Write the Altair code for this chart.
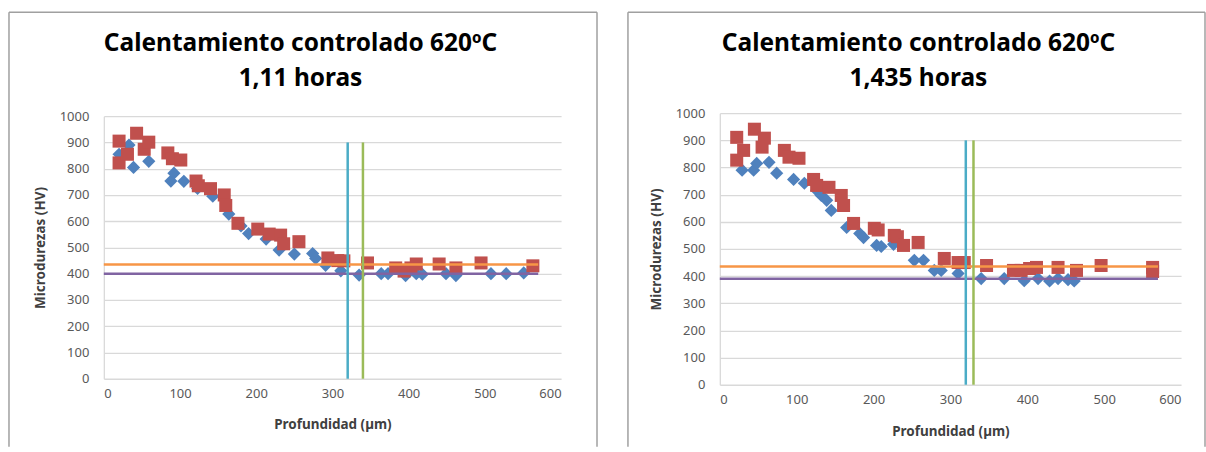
import altair as alt
import pandas as pd

# ---------------- data ----------------
TITLE_LINE1 = "Calentamiento controlado 620ºC"
TITLE_LEFT = "1,11 horas"
TITLE_RIGHT = "1,435 horas"
X_TITLE = "Profundidad (µm)"
Y_TITLE = "Microdurezas (HV)"
X_TICKS = [0, 100, 200, 300, 400, 500, 600]
Y_TICKS = [0, 100, 200, 300, 400, 500, 600, 700, 800, 900, 1000]

# Left panel (1,11 h)
left_blue_x = [20, 33, 39, 59, 88, 92, 105, 123, 143, 164, 180, 190, 213, 230, 250,
               274, 278, 291, 311, 335, 364, 373, 396, 410, 418, 449, 462, 508, 528, 551]
left_blue_y = [855, 890, 805, 828, 753, 783, 752, 725, 695, 627, 582, 553, 532, 490, 475,
               477, 458, 432, 411, 395, 400, 400, 393, 400, 398, 400, 393, 400, 400, 403]
left_red_x = [20, 20, 31, 43, 53, 59, 84, 90, 101, 121, 124, 140, 158, 160, 176, 202,
              217, 232, 236, 256, 294, 307, 315, 346, 383, 394, 403, 410, 440, 462, 495, 563]
left_red_y = [905, 822, 855, 935, 874, 901, 860, 838, 833, 753, 735, 724, 700, 660, 592, 570,
              551, 547, 514, 522, 460, 450, 449, 441, 422, 410, 422, 437, 437, 422, 441, 430]
left_hline_y = [435, 400]          # orange, purple
left_vline_x = [320, 340]          # cyan, green

# Right panel (1,435 h)
right_blue_x = [29, 44, 48, 64, 74, 96, 110, 126, 132, 139, 145, 165, 182, 187, 204,
                210, 226, 253, 265, 279, 288, 310, 340, 370, 396, 414, 429, 440, 453, 461]
right_blue_y = [790, 790, 815, 819, 779, 756, 742, 716, 697, 679, 642, 579, 557, 542, 513,
                509, 517, 458, 458, 421, 421, 410, 391, 391, 383, 391, 382, 391, 387, 382]
right_red_x = [22, 22, 31, 45, 55, 58, 84, 90, 103, 122, 126, 142, 158, 161, 174, 201, 206,
               227, 231, 239, 258, 292, 310, 318, 347, 382, 392, 403, 412, 440, 464, 496, 563, 563]
right_red_y = [911, 827, 863, 941, 875, 908, 863, 838, 834, 756, 734, 727, 697, 660, 594, 576, 570,
               550, 545, 513, 524, 465, 450, 450, 439, 421, 421, 428, 432, 432, 421, 439, 432, 417]
right_hline_y = [435, 390]
right_vline_x = [320, 330]

HLINE_X_END = 570
VLINE_Y_TOP = 900

# ---------------- styling ----------------
BLUE = "#4F81BD"
RED = "#C0504D"
ORANGE = "#F79646"
PURPLE = "#8064A2"
CYAN = "#4BACC6"
GREEN = "#9BBB59"
GRID = "#D9D9D9"
FRAME = "#A0A0A0"
FONT = "Noto Sans"


def panel(bx, by, rx, ry, hy, vx, line2, width, height, yrange, frame, title_x, xtitle_pad):
    xs = alt.Scale(domain=[0, 600], nice=False, zero=False)
    ys = alt.Scale(domain=[0, 1000], nice=False, range=yrange)
    xaxis = alt.Axis(values=X_TICKS, format="d", grid=False, domain=False, ticks=False,
                     labelPadding=9, title=X_TITLE, titlePadding=xtitle_pad)
    yaxis = alt.Axis(values=Y_TICKS, format="d", grid=True, gridColor=GRID, gridWidth=1.3,
                     domain=True, domainColor=GRID, domainWidth=1.3, ticks=False,
                     labelPadding=15, title=Y_TITLE, titlePadding=12)

    def X(f):
        return alt.X(f, type="quantitative", scale=xs, axis=xaxis)

    def Y(f):
        return alt.Y(f, type="quantitative", scale=ys, axis=yaxis)

    blue = alt.Chart(pd.DataFrame({"x": bx, "y": by})).mark_point(
        shape="diamond", filled=True, size=175, color=BLUE, opacity=1
    ).encode(x=X("x"), y=Y("y"))
    red = alt.Chart(pd.DataFrame({"x": rx, "y": ry})).mark_point(
        shape="square", filled=True, size=170, color=RED, opacity=1
    ).encode(x=X("x"), y=Y("y"))

    hdf = pd.DataFrame({"y": hy, "x": [0, 0], "x2": [HLINE_X_END] * 2, "c": [ORANGE, PURPLE]})
    hrules = alt.Chart(hdf).mark_rule(strokeWidth=2.5).encode(
        x=X("x"), x2="x2", y=Y("y"), color=alt.Color("c:N", scale=None))
    vdf = pd.DataFrame({"x": vx, "y": [0, 0], "y2": [VLINE_Y_TOP] * 2, "c": [CYAN, GREEN]})
    vrules = alt.Chart(vdf).mark_rule(strokeWidth=2.5).encode(
        x=X("x"), y=Y("y"), y2="y2", color=alt.Color("c:N", scale=None))

    one = pd.DataFrame({"a": [0]})
    fl, ft, fr, fb = frame
    frame_layers = [
        alt.Chart(one).mark_rule(color=FRAME, strokeWidth=1.5).encode(
            x=alt.value(fl), y=alt.value(ft), y2=alt.value(fb)),
        alt.Chart(one).mark_rule(color=FRAME, strokeWidth=1.5).encode(
            x=alt.value(fl), x2=alt.value(fr), y=alt.value(ft)),
        alt.Chart(one).mark_rule(color=FRAME, strokeWidth=1.5).encode(
            x=alt.value(fr), y=alt.value(ft), y2=alt.value(fb)),
    ]

    t1 = alt.Chart(one).mark_text(
        text=TITLE_LINE1, font=FONT, fontSize=24.5, fontWeight="bold", color="#000000",
        align="center", baseline="alphabetic"
    ).encode(x=alt.value(title_x), y=alt.value(-62))
    t2 = alt.Chart(one).mark_text(
        text=line2, font=FONT, fontSize=24.5, fontWeight="bold", color="#000000",
        align="center", baseline="alphabetic"
    ).encode(x=alt.value(title_x), y=alt.value(-27))

    return alt.layer(blue, red, hrules, vrules, *frame_layers, t1, t2).properties(
        width=width, height=height)


left = panel(left_blue_x, left_blue_y, left_red_x, left_red_y, left_hline_y, left_vline_x,
             TITLE_LEFT, 458, 266, [266, 3], (-95, -101, 494, 334), 197, 17)
right = panel(right_blue_x, right_blue_y, right_red_x, right_red_y, right_hline_y, right_vline_x,
              TITLE_RIGHT, 462, 272, [272, 0], (-92, -101, 486, 334), 199, 18)

chart = alt.hconcat(left, right, spacing=29).properties(
    padding={"left": 8, "top": 11, "right": 0, "bottom": 0},
    background="white",
).configure_view(stroke=None).configure_axis(
    labelFont=FONT, labelFontSize=13, labelColor="#595959",
    titleFont=FONT, titleFontSize=13.5, titleFontWeight="bold", titleColor="#404040",
)

chart.save("out.html", embed_options={"renderer": "svg", "actions": False})
